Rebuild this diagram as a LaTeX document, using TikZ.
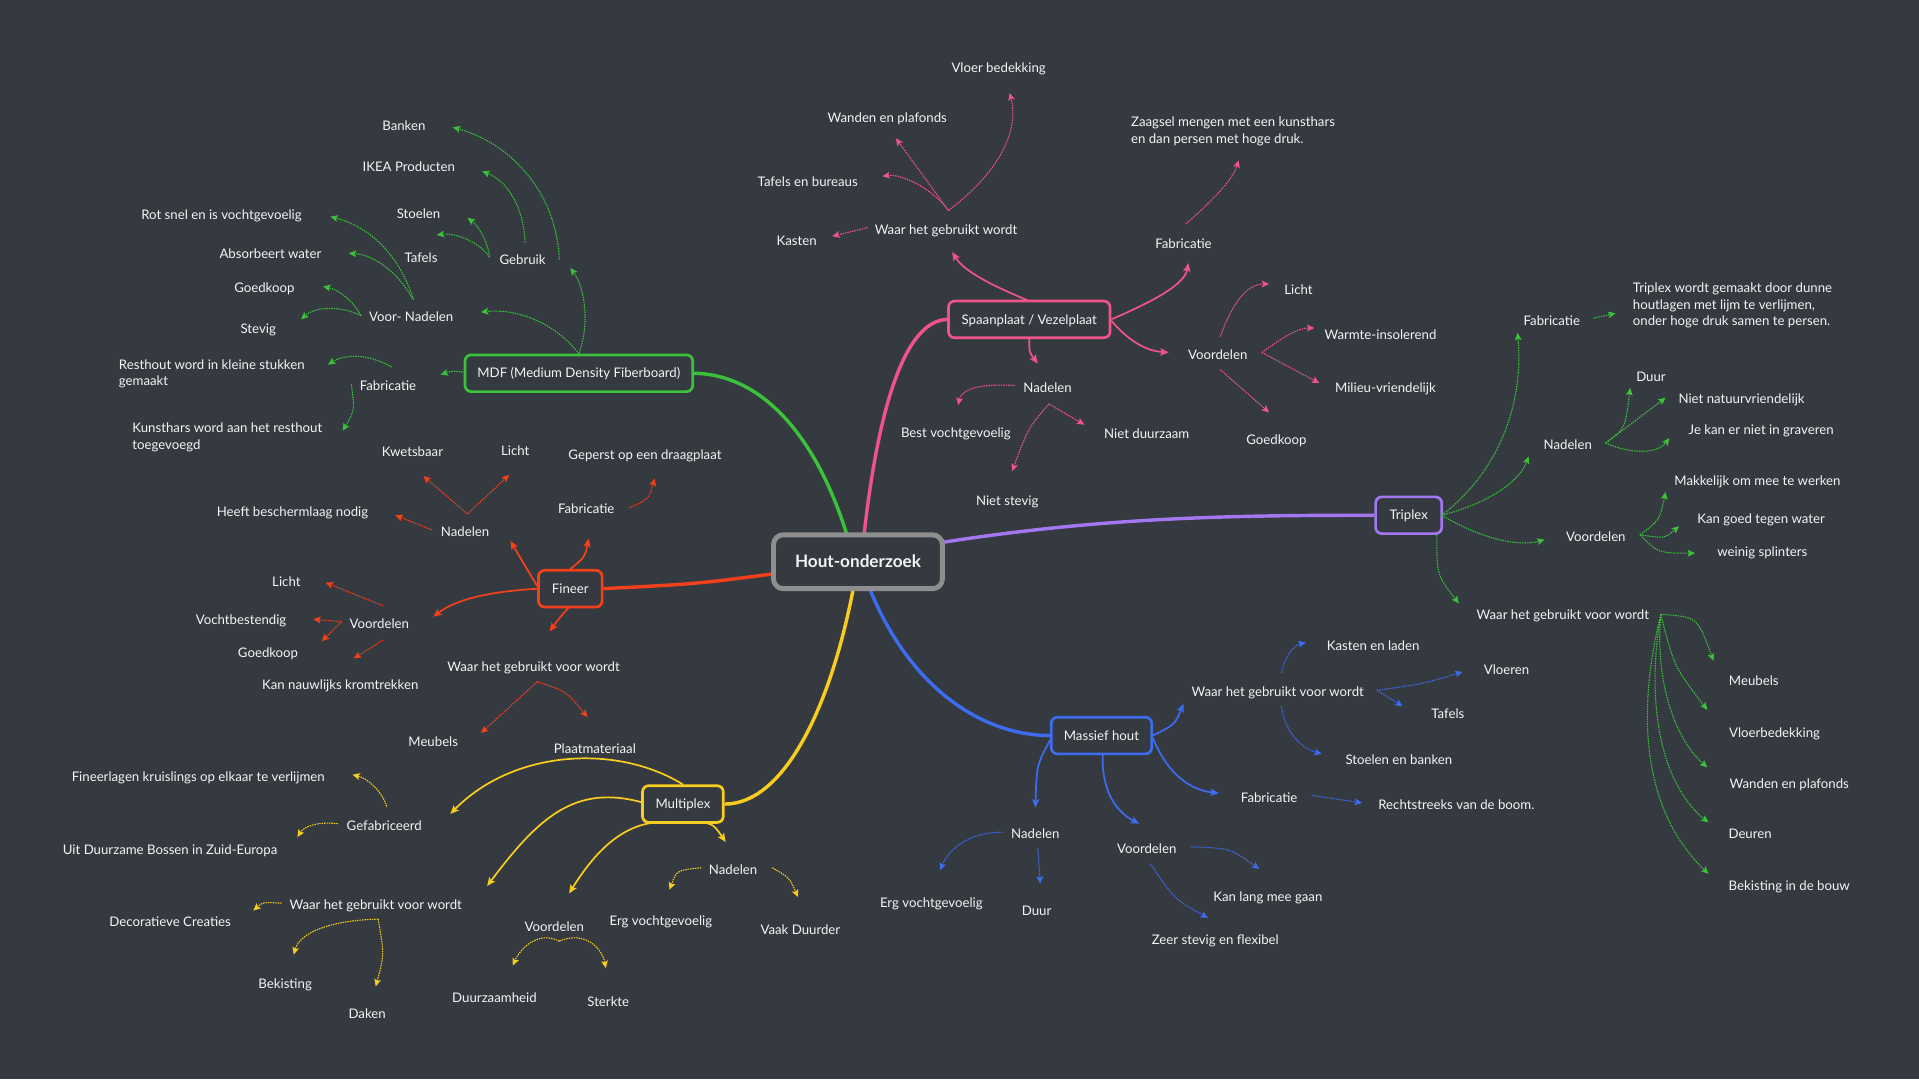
\documentclass[tikz,border=0pt]{standalone}
\usepackage{fontspec}
\setmainfont{Lato}
\usetikzlibrary{arrows.meta}
\definecolor{bg}{HTML}{343A40}
\definecolor{txt}{HTML}{F4F4F4}
\definecolor{cgreen}{HTML}{3CC13B}
\definecolor{cpink}{HTML}{F0538A}
\definecolor{cpurple}{HTML}{A277F0}
\definecolor{cred}{HTML}{F5401C}
\definecolor{cyellow}{HTML}{F8CD1F}
\definecolor{cblue}{HTML}{3E6CF0}
\definecolor{cgray}{HTML}{8E8E8E}
\pgfdeclarelayer{back}
\pgfdeclarelayer{links}
\pgfsetlayers{back,links,main}
\begin{document}
\begin{tikzpicture}[x=1pt,y=-1pt,
  lbl/.style={text=txt, inner sep=1pt, text height=10.7pt, text depth=0pt, font=\fontsize{10.8}{13.8}\selectfont},
  para/.style={text=txt, inner sep=1pt, anchor=west, align=left, font=\fontsize{10.8}{13.8}\selectfont},
  topic/.style={draw=#1, rounded corners=5pt, line width=2.2pt, fill=bg, text=txt,
    minimum height=30pt, inner sep=0pt, text height=7.7pt, text depth=0pt, font=\fontsize{10.8}{13}\selectfont},
  centre/.style={draw=cgray, rounded corners=8pt, line width=4pt, fill=bg, text=txt,
    minimum width=138pt, minimum height=44pt, inner sep=0pt, text height=10pt, text depth=0pt, font=\bfseries\fontsize{14}{16}\selectfont},
  trunk/.style={draw=#1, line width=2.8pt},
  lvtwo/.style={draw=#1, line width=1.4pt, -{Stealth[length=7pt,width=6pt,inset=1.5pt]}},
  lvthree/.style={draw=#1, line width=0.9pt, dash pattern=on 1.2pt off 0.8pt, -{Stealth[length=6pt,width=5.5pt,inset=1.2pt]}},
]
\begin{pgfonlayer}{back}
\fill[bg] (0,0) rectangle (1568,882);
\end{pgfonlayer}
\useasboundingbox (0,0) rectangle (1568,882);

% ---------- centre and topics
\node[centre] (hout) at (701,459) {Hout-onderzoek};
\node[topic=cgreen, minimum width=186pt] (mdf) at (473,305) {MDF (Medium Density Fiberboard)};
\node[topic=cpink, minimum width=132pt] (spaan) at (841,261) {Spaanplaat / Vezelplaat};
\node[topic=cpurple, minimum width=54pt] (triplex) at (1151,421) {Triplex};
\node[topic=cred, minimum width=52pt] (fineer) at (466,481) {Fineer};
\node[topic=cyellow, minimum width=66pt] (multi) at (558,657) {Multiplex};
\node[topic=cblue, minimum width=82pt] (massief) at (900,601) {Massief hout};

% ---------- trunks (behind the boxes)
\begin{pgfonlayer}{links}
\draw[trunk=cgreen] ([shift={(-9,-22)}]hout.center) .. controls (668,360) and (625,306) .. (mdf.east);
\draw[trunk=cpink] ([shift={(5,-22)}]hout.center) .. controls (718,330) and (740,262) .. (spaan.west);
\draw[trunk=cpurple] ([shift={(70,-16)}]hout.center) .. controls (900,423) and (1000,421) .. (triplex.west);
\draw[trunk=cred] ([shift={(-70,10)}]hout.center) .. controls (570,477) .. (fineer.east);
\draw[trunk=cyellow] ([shift={(-4,23)}]hout.center) .. controls (678,580) and (640,657) .. (multi.east);
\draw[trunk=cblue] ([shift={(10,23)}]hout.center) .. controls (745,565) and (805,601) .. (massief.west);
\end{pgfonlayer}

% ---------- MDF labels
\node[lbl] (geb) at (427,211) {Gebruik};
\node[lbl] (banken) at (330,101) {Banken};
\node[lbl] (ikea) at (334,135) {IKEA Producten};
\node[lbl] (stoel) at (342,173) {Stoelen};
\node[lbl] (tafel) at (344,209) {Tafels};
\node[lbl] (vn) at (336,257) {Voor- Nadelen};
\node[lbl] (rot) at (181,174) {Rot snel en is vochtgevoelig};
\node[lbl] (absorb) at (221,206) {Absorbeert water};
\node[lbl] (mgoed) at (216,234) {Goedkoop};
\node[lbl] (stevig) at (211,267) {Stevig};
\node[lbl] (mfab) at (317,314) {Fabricatie};
\node[para] (rest) at (96,305.5) {Resthout word in kleine stukken\\gemaakt};
\node[para] (kunst) at (107,357.5) {Kunsthars word aan het resthout\\toegevoegd};

\draw[lvthree=cgreen] ([shift={(0,-16)}]mdf.center) .. controls (482,265) and (478,235) .. ([shift={(39,8)}]geb.center);
\draw[lvthree=cgreen] ([shift={(0,-16)}]mdf.center) .. controls (452,262) and (420,252) .. ([shift={(57,-2)}]vn.center);
\draw[lvthree=cgreen] ([shift={(-95,-1)}]mdf.center) .. controls (370,303) .. ([shift={(43,-8)}]mfab.center);
\draw[lvthree=cgreen] ([shift={(30,1)}]geb.center) .. controls (455,160) and (420,118) .. ([shift={(40,3)}]banken.center);
\draw[lvthree=cgreen] ([shift={(2,-13)}]geb.center) .. controls (428,170) and (415,148) .. ([shift={(60,5)}]ikea.center);
\draw[lvthree=cgreen] ([shift={(-27,-1)}]geb.center) .. controls (398,195) and (390,184) .. ([shift={(40,5)}]stoel.center);
\draw[lvthree=cgreen] ([shift={(-27,-1)}]geb.center) .. controls (392,198) and (372,190) .. ([shift={(13,-17)}]tafel.center);
\draw[lvthree=cgreen] ([shift={(2,-12)}]vn.center) .. controls (325,205) and (300,185) .. ([shift={(89,3)}]rot.center);
\draw[lvthree=cgreen] ([shift={(1,-13)}]vn.center) .. controls (325,222) and (305,208) .. ([shift={(64,1)}]absorb.center);
\draw[lvthree=cgreen] ([shift={(-41,1)}]vn.center) .. controls (288,245) and (277,237) .. ([shift={(48,0)}]mgoed.center);
\draw[lvthree=cgreen] ([shift={(-41,1)}]vn.center) .. controls (280,250) and (258,250) .. ([shift={(35,-6)}]stevig.center);
\draw[lvthree=cgreen] ([shift={(3,-14)}]mfab.center) .. controls (300,288) and (280,290) .. ([shift={(172,-7.5)}]rest.west);
\draw[lvthree=cgreen] ([shift={(-30,0)}]mfab.center) .. controls (290,335) .. ([shift={(173,-5.5)}]kunst.west);

% ---------- Fineer labels
\node[lbl] (fnad) at (380,433) {Nadelen};
\node[lbl] (kwets) at (337,368) {Kwetsbaar};
\node[lbl] (flichta) at (421,367) {Licht};
\node[lbl] (heeft) at (239,417) {Heeft beschermlaag nodig};
\node[lbl] (ffab) at (479,414) {Fabricatie};
\node[lbl] (geperst) at (527,370) {Geperst op een draagplaat};
\node[lbl] (fvoor) at (310,508) {Voordelen};
\node[lbl] (flichtb) at (234,474) {Licht};
\node[lbl] (vocht) at (197,505) {Vochtbestendig};
\node[lbl] (fgoed) at (219,532) {Goedkoop};
\node[lbl] (krom) at (278,558) {Kan nauwlijks kromtrekken};
\node[lbl] (fwaar) at (436,543) {Waar het gebruikt voor wordt};
\node[lbl] (fmeub) at (354,605) {Meubels};
\node[lbl] (plaat) at (486,610) {Plaatmateriaal};

\draw[lvtwo=cred] ([shift={(-27,-2)}]fineer.center) -- ([shift={(37,9)}]fnad.center);
\draw[lvtwo=cred] ([shift={(0,-16)}]fineer.center) .. controls (478,455) .. ([shift={(2,26)}]ffab.center);
\draw[lvtwo=cred] ([shift={(-25,0)}]fineer.center) .. controls (400,483) and (372,490) .. ([shift={(44,-4)}]fvoor.center);
\draw[lvtwo=cred] ([shift={(-1,15)}]fineer.center) .. controls (457,505) .. ([shift={(13,-27)}]fwaar.center);
\draw[lvthree=cred] ([shift={(2,-13)}]fnad.center) -- ([shift={(9,21)}]kwets.center);
\draw[lvthree=cred] ([shift={(2,-13)}]fnad.center) -- ([shift={(-5,21)}]flichta.center);
\draw[lvthree=cred] ([shift={(-27,0)}]fnad.center) -- ([shift={(84,4)}]heeft.center);
\draw[lvthree=cred] ([shift={(35,1)}]ffab.center) .. controls (530,408) .. ([shift={(8,21)}]geperst.center);
\draw[lvthree=cred] ([shift={(3,-13)}]fvoor.center) -- ([shift={(32,2)}]flichtb.center);
\draw[lvthree=cred] ([shift={(-31,0)}]fvoor.center) -- ([shift={(59,1)}]vocht.center);
\draw[lvthree=cred] ([shift={(-31,0)}]fvoor.center) -- ([shift={(44,-8)}]fgoed.center);
\draw[lvthree=cred] ([shift={(3,15)}]fvoor.center) -- ([shift={(11,-20)}]krom.center);
\draw[lvthree=cred] ([shift={(3,14)}]fwaar.center) -- ([shift={(39,-6)}]fmeub.center);
\draw[lvthree=cred] ([shift={(3,14)}]fwaar.center) .. controls (463,565) .. ([shift={(-6,-24)}]plaat.center);

% ---------- Multiplex labels
\node[lbl] (gefab) at (314,673) {Gefabriceerd};
\node[lbl] (fineerl) at (162,633) {Fineerlagen kruislings op elkaar te verlijmen};
\node[lbl] (uit) at (139,693) {Uit Duurzame Bossen in Zuid-Europa};
\node[lbl] (mwaar) at (307,738) {Waar het gebruikt voor wordt};
\node[lbl] (deco) at (139,752) {Decoratieve Creaties};
\node[lbl] (bekist) at (233,802) {Bekisting};
\node[lbl] (daken) at (300,827) {Daken};
\node[lbl] (mvoor) at (453,756) {Voordelen};
\node[lbl] (duurz) at (404,814) {Duurzaamheid};
\node[lbl] (sterk) at (497,817) {Sterkte};
\node[lbl] (mnad) at (599,709) {Nadelen};
\node[lbl] (ergv) at (540,751) {Erg vochtgevoelig};
\node[lbl] (vaak) at (654,758) {Vaak Duurder};

\draw[lvtwo=cyellow] ([shift={(0,-16)}]multi.center) .. controls (505,608) and (420,612) .. ([shift={(54,-8)}]gefab.center);
\draw[lvtwo=cyellow] ([shift={(-32,-1)}]multi.center) .. controls (470,640) and (440,668) .. ([shift={(91,-14)}]mwaar.center);
\draw[lvtwo=cyellow] ([shift={(-9,15)}]multi.center) .. controls (510,668) and (485,698) .. ([shift={(12,-26)}]mvoor.center);
\draw[lvtwo=cyellow] ([shift={(4,15)}]multi.center) .. controls (582,672) .. ([shift={(-6,-21)}]mnad.center);
\draw[lvthree=cyellow] ([shift={(2,-14)}]gefab.center) .. controls (312,646) and (300,636) .. ([shift={(126,0)}]fineerl.center);
\draw[lvthree=cyellow] ([shift={(-38,0)}]gefab.center) .. controls (258,671) and (248,676) .. ([shift={(104,-9)}]uit.center);
\draw[lvthree=cyellow] ([shift={(-77,0)}]mwaar.center) .. controls (215,737) .. ([shift={(68,-8)}]deco.center);
\draw[lvthree=cyellow] ([shift={(2,13)}]mwaar.center) .. controls (270,752) and (245,762) .. ([shift={(7,-22)}]bekist.center);
\draw[lvthree=cyellow] ([shift={(2,13)}]mwaar.center) .. controls (314,780) .. ([shift={(7,-21)}]daken.center);
\draw[lvthree=cyellow] ([shift={(4,13)}]mvoor.center) .. controls (440,760) and (425,775) .. ([shift={(15,-25)}]duurz.center);
\draw[lvthree=cyellow] ([shift={(4,13)}]mvoor.center) .. controls (478,760) and (492,775) .. ([shift={(-2,-26)}]sterk.center);
\draw[lvthree=cyellow] ([shift={(-26,0)}]mnad.center) .. controls (553,711) .. ([shift={(7,-24)}]ergv.center);
\draw[lvthree=cyellow] ([shift={(32,0)}]mnad.center) .. controls (645,717) .. ([shift={(-2,-25)}]vaak.center);

% ---------- Massief hout labels
\node[lbl] (bwaar) at (1044,564) {Waar het gebruikt voor wordt};
\node[lbl] (kasten) at (1122,526) {Kasten en laden};
\node[lbl] (vloeren) at (1231,546) {Vloeren};
\node[lbl] (btafel) at (1183,582) {Tafels};
\node[lbl] (stoelb) at (1143,619) {Stoelen en banken};
\node[lbl] (bfab) at (1037,650) {Fabricatie};
\node[lbl] (recht) at (1190,656) {Rechtstreeks van de boom.};
\node[lbl] (bnad) at (846,680) {Nadelen};
\node[lbl] (bvoor) at (937,692) {Voordelen};
\node[lbl] (bergv) at (761,736) {Erg vochtgevoelig};
\node[lbl] (bduur) at (847,743) {Duur};
\node[lbl] (lang) at (1036,731) {Kan lang mee gaan};
\node[lbl] (zeer) at (993,766) {Zeer stevig en flexibel};

\draw[lvtwo=cblue] ([shift={(42,0)}]massief.center) .. controls (960,592) .. ([shift={(-77,11)}]bwaar.center);
\draw[lvtwo=cblue] ([shift={(42,2)}]massief.center) .. controls (955,635) and (975,646) .. ([shift={(-41,-2)}]bfab.center);
\draw[lvtwo=cblue] ([shift={(-41,2)}]massief.center) .. controls (847,625) .. ([shift={(0,-20)}]bnad.center);
\draw[lvtwo=cblue] ([shift={(1,16)}]massief.center) .. controls (900,650) and (915,665) .. ([shift={(-6,-19)}]bvoor.center);
\draw[lvthree=cblue] ([shift={(3,-14)}]bwaar.center) .. controls (1050,535) and (1058,527) .. ([shift={(-55,-1)}]kasten.center);
\draw[lvthree=cblue] ([shift={(81,0)}]bwaar.center) .. controls (1162,559) .. ([shift={(-36,3)}]vloeren.center);
\draw[lvthree=cblue] ([shift={(81,0)}]bwaar.center) -- ([shift={(-37,-5)}]btafel.center);
\draw[lvthree=cblue] ([shift={(3,13)}]bwaar.center) .. controls (1050,600) and (1065,612) .. ([shift={(-63,-3)}]stoelb.center);
\draw[lvthree=cblue] ([shift={(35,0)}]bfab.center) -- ([shift={(-77,0)}]recht.center);
\draw[lvthree=cblue] ([shift={(-27,0)}]bnad.center) .. controls (790,680) and (775,695) .. ([shift={(7,-25)}]bergv.center);
\draw[lvthree=cblue] ([shift={(2,13)}]bnad.center) -- ([shift={(3,-21)}]bduur.center);
\draw[lvthree=cblue] ([shift={(36,0)}]bvoor.center) .. controls (1005,693) .. ([shift={(-7,-21)}]lang.center);
\draw[lvthree=cblue] ([shift={(3,14)}]bvoor.center) .. controls (960,735) .. ([shift={(-6,-16)}]zeer.center);

% ---------- Spaanplaat labels
\node[lbl] (swaar) at (773,186) {Waar het gebruikt wordt};
\node[lbl] (skast) at (651,195) {Kasten};
\node[lbl] (stafel) at (660,147) {Tafels en bureaus};
\node[lbl] (swand) at (725,95) {Wanden en plafonds};
\node[lbl] (svloer) at (816,54) {Vloer bedekking};
\node[lbl] (sfab) at (967,198) {Fabricatie};
\node[para] (zaag) at (923,107.5) {Zaagsel mengen met een kunsthars\\en dan persen met hoge druk.};
\node[lbl] (svoor) at (995,288) {Voordelen};
\node[lbl] (slicht) at (1061,235) {Licht};
\node[lbl] (warmte) at (1128,272) {Warmte-insolerend};
\node[lbl] (milieu) at (1132,315) {Milieu-vriendelijk};
\node[lbl] (sgoed) at (1043,358) {Goedkoop};
\node[lbl] (snad) at (856,315) {Nadelen};
\node[lbl] (best) at (781,352) {Best vochtgevoelig};
\node[lbl] (nduur) at (937,353) {Niet duurzaam};
\node[lbl] (nstev) at (823,408) {Niet stevig};

\draw[lvtwo=cpink] ([shift={(0,-15)}]spaan.center) .. controls (810,233) and (788,222) .. ([shift={(5,20)}]swaar.center);
\draw[lvtwo=cpink] ([shift={(67,0)}]spaan.center) .. controls (945,245) and (968,232) .. ([shift={(4,17)}]sfab.center);
\draw[lvtwo=cpink] ([shift={(67,1)}]spaan.center) .. controls (925,282) and (940,287) .. ([shift={(-40,0)}]svoor.center);
\draw[lvtwo=cpink] ([shift={(0,15)}]spaan.center) .. controls (841,288) .. ([shift={(-8,-18)}]snad.center);
\draw[lvthree=cpink] ([shift={(-64,0)}]swaar.center) -- ([shift={(29,-2)}]skast.center);
\draw[lvthree=cpink] ([shift={(2,-14)}]swaar.center) .. controls (760,152) and (735,142) .. ([shift={(61,-3)}]stafel.center);
\draw[lvthree=cpink] ([shift={(2,-14)}]swaar.center) -- ([shift={(7,18)}]swand.center);
\draw[lvthree=cpink] ([shift={(2,-14)}]swaar.center) .. controls (830,130) and (830,95) .. ([shift={(9,22)}]svloer.center);
\draw[lvthree=cpink] ([shift={(2,-15)}]sfab.center) .. controls (995,160) and (1008,145) .. ([shift={(89,23.5)}]zaag.west);
\draw[lvthree=cpink] ([shift={(2,-13)}]svoor.center) .. controls (1008,245) and (1020,232) .. ([shift={(-24,-3)}]slicht.center);
\draw[lvthree=cpink] ([shift={(36,0)}]svoor.center) .. controls (1048,276) and (1060,268) .. ([shift={(-54,-4)}]warmte.center);
\draw[lvthree=cpink] ([shift={(36,0)}]svoor.center) -- ([shift={(-54,-2)}]milieu.center);
\draw[lvthree=cpink] ([shift={(2,14)}]svoor.center) -- ([shift={(-6,-21)}]sgoed.center);
\draw[lvthree=cpink] ([shift={(-27,0)}]snad.center) .. controls (795,313) and (785,320) .. ([shift={(2,-21)}]best.center);
\draw[lvthree=cpink] ([shift={(1,15)}]snad.center) -- ([shift={(-51,-6)}]nduur.center);
\draw[lvthree=cpink] ([shift={(1,15)}]snad.center) .. controls (840,350) .. ([shift={(4,-23)}]nstev.center);

% ---------- Triplex labels
\node[lbl] (tfab) at (1268,261) {Fabricatie};
\node[para] (twordt) at (1333,249.5) {Triplex wordt gemaakt door dunne\\houtlagen met lijm te verlijmen,\\onder hoge druk samen te persen.};
\node[lbl] (tnad) at (1281,362) {Nadelen};
\node[lbl] (tduur) at (1349,306) {Duur};
\node[lbl] (natuur) at (1423,324) {Niet natuurvriendelijk};
\node[lbl] (grav) at (1439,350) {Je kan er niet in graveren};
\node[lbl] (tvoor) at (1304,437) {Voordelen};
\node[lbl] (makk) at (1436,391) {Makkelijk om mee te werken};
\node[lbl] (water) at (1439,422) {Kan goed tegen water};
\node[lbl] (splint) at (1440,449) {weinig splinters};
\node[lbl] (twaar) at (1277,501) {Waar het gebruikt voor wordt};
\node[lbl] (tmeub) at (1433,555) {Meubels};
\node[lbl] (vloerb) at (1450,597) {Vloerbedekking};
\node[lbl] (twand) at (1462,639) {Wanden en plafonds};
\node[lbl] (deuren) at (1430,680) {Deuren};
\node[lbl] (bouw) at (1462,722) {Bekisting in de bouw};

\draw[lvthree=cgreen] ([shift={(27,0)}]triplex.center) .. controls (1225,385) and (1245,330) .. ([shift={(-28,11)}]tfab.center);
\draw[lvthree=cgreen] ([shift={(27,0)}]triplex.center) .. controls (1220,410) and (1242,392) .. ([shift={(-32,11)}]tnad.center);
\draw[lvthree=cgreen] ([shift={(27,0)}]triplex.center) .. controls (1210,440) and (1240,447) .. ([shift={(-42,4)}]tvoor.center);
\draw[lvthree=cgreen] ([shift={(23,16)}]triplex.center) .. controls (1174,470) .. ([shift={(-85,-8)}]twaar.center);
\draw[lvthree=cgreen] ([shift={(34,-1)}]tfab.center) -- ([shift={(-13,6.5)}]twordt.west);
\draw[lvthree=cgreen] ([shift={(31,0)}]tnad.center) .. controls (1328,350) .. ([shift={(-17,11)}]tduur.center);
\draw[lvthree=cgreen] ([shift={(31,0)}]tnad.center) -- ([shift={(-62,1)}]natuur.center);
\draw[lvthree=cgreen] ([shift={(31,0)}]tnad.center) .. controls (1335,372) and (1355,370) .. ([shift={(-75,8)}]grav.center);
\draw[lvthree=cgreen] ([shift={(36,0)}]tvoor.center) .. controls (1356,425) .. ([shift={(-75,11)}]makk.center);
\draw[lvthree=cgreen] ([shift={(36,0)}]tvoor.center) .. controls (1360,440) .. ([shift={(-67,8)}]water.center);
\draw[lvthree=cgreen] ([shift={(36,0)}]tvoor.center) .. controls (1355,452) .. ([shift={(-55,3)}]splint.center);
\draw[lvthree=cgreen] ([shift={(80,1)}]twaar.center) .. controls (1387,504) .. ([shift={(-33,-15)}]tmeub.center);
\draw[lvthree=cgreen] ([shift={(80,1)}]twaar.center) .. controls (1368,545) .. ([shift={(-55,-17)}]vloerb.center);
\draw[lvthree=cgreen] ([shift={(80,1)}]twaar.center) .. controls (1352,560) and (1370,605) .. ([shift={(-67,-12)}]twand.center);
\draw[lvthree=cgreen] ([shift={(80,1)}]twaar.center) .. controls (1343,585) and (1362,645) .. ([shift={(-34,-8)}]deuren.center);
\draw[lvthree=cgreen] ([shift={(80,1)}]twaar.center) .. controls (1333,600) and (1350,670) .. ([shift={(-66,-8)}]bouw.center);
\end{tikzpicture}
\end{document}
